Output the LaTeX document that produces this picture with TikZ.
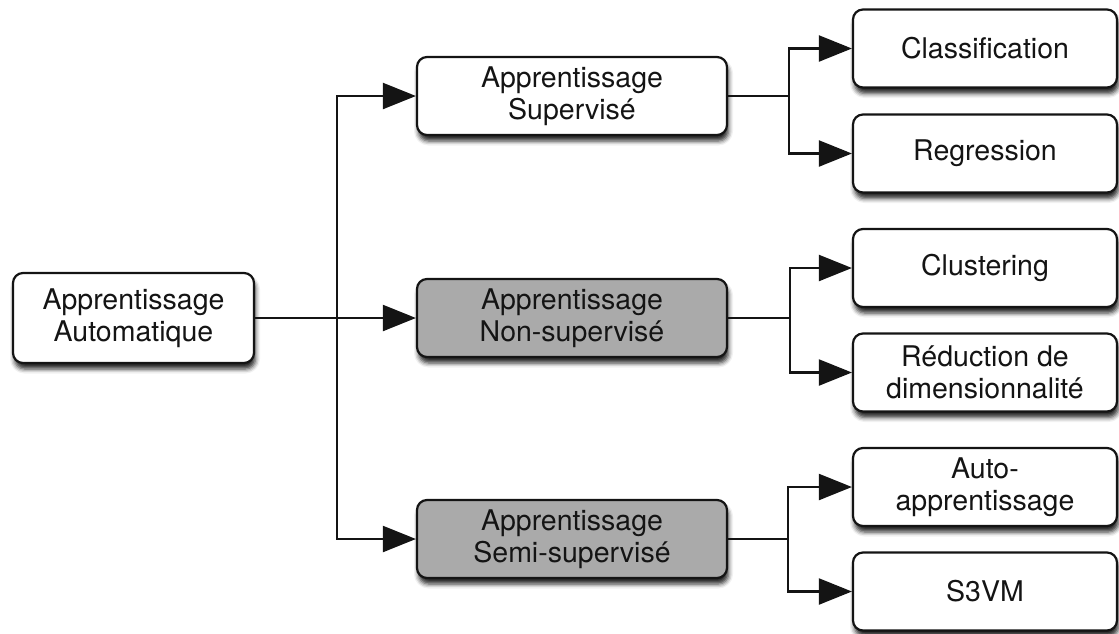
\documentclass[tikz,border=0pt]{standalone}
\usepackage{fontspec}
\setmainfont{TeX Gyre Heros}
\usetikzlibrary{arrows.meta,shadows.blur}
\definecolor{inkc}{RGB}{20,20,20}
\definecolor{greyfill}{RGB}{170,170,170}
\tikzset{
  box/.style={draw=inkc, line width=2.2pt, rounded corners=10pt, fill=white,
    text=inkc, align=center, font=\fontsize{28.5}{32}\selectfont,
    inner sep=0pt, minimum height=78pt,
    blur shadow={shadow xshift=1.5pt, shadow yshift=-6pt,
                 shadow blur radius=4.5pt, shadow opacity=85}},
  midbox/.style={box, minimum width=310pt},
  leafbox/.style={box, minimum width=264pt},
  shaded/.style={fill=greyfill},
  link/.style={draw=inkc, line width=2.2pt},
  arr/.style={link, -{Triangle[length=33pt,width=26pt]}}
}
\begin{document}
\begin{tikzpicture}[x=1pt, y=-1pt]
\useasboundingbox (0,0) rectangle (1119,633);

% root
\node[box, minimum width=241pt, minimum height=90pt] (root) at (133.5,318)
  {Apprentissage\\Automatique};

% three families of learning
\node[midbox] (sup)  at (572,96)  {Apprentissage\\Supervisé};
\node[midbox, shaded] (non)  at (572,318) {Apprentissage\\Non-supervisé};
\node[midbox, shaded] (semi) at (572,539) {Apprentissage\\Semi-supervisé};

% tasks
\node[leafbox] (cls) at (985,48.5)  {Classification};
\node[leafbox] (reg) at (985,153.5) {Regression};
\node[leafbox] (clu) at (985,268)   {Clustering};
\node[leafbox] (red) at (985,372.5) {Réduction de\\dimensionnalité};
\node[leafbox] (aut) at (985,487)   {Auto-\\apprentissage};
\node[leafbox] (s3v) at (985,591.5) {S3VM};

% trunk from the root
\draw[arr] (root.east) -- (non.west);
\coordinate (t0) at (337,318);
\draw[arr] (t0) |- (sup.west);
\draw[arr] (t0) |- (semi.west);

% supervised branch
\draw[link] (sup.east) -- ++(61,0) coordinate (t1);
\draw[arr] (t1) |- (cls.west);
\draw[arr] (t1) |- (reg.west);

% unsupervised branch
\draw[link] (non.east) -- ++(62,0) coordinate (t2);
\draw[arr] (t2) |- (clu.west);
\draw[arr] (t2) |- (red.west);

% semi-supervised branch
\draw[link] (semi.east) -- ++(60,0) coordinate (t3);
\draw[arr] (t3) |- (aut.west);
\draw[arr] (t3) |- (s3v.west);
\end{tikzpicture}
\end{document}
